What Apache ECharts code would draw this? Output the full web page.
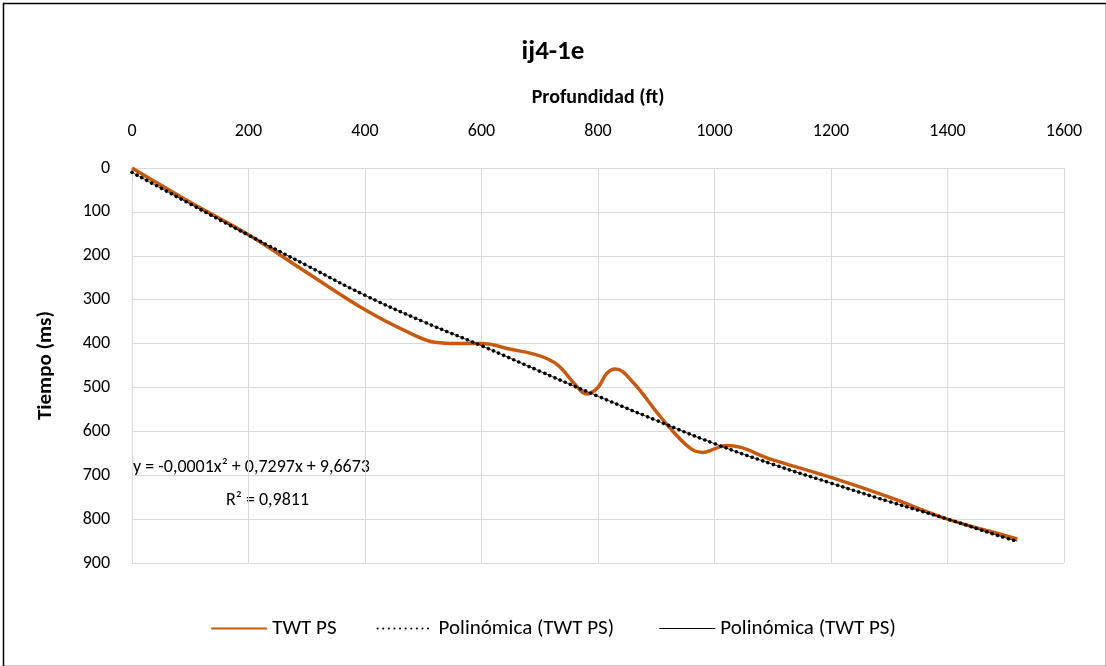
<!DOCTYPE html>
<html style="height: 100%">
<head>
<meta charset="UTF-8">
<script src="https://cdn.jsdelivr.net/npm/echarts@6/dist/echarts.min.js"></script>
</head>
<body style="height: 100%; margin: 0; background:#fff">
<div id="container" style="width:1106px;height:666px"></div>
<script type="text/javascript">
var twtX = [0, 100, 200, 300, 400, 480, 520, 560, 600, 650, 700, 730, 760, 780, 800, 815, 830, 860, 900, 930, 960, 980, 1000, 1020, 1100, 1200, 1300, 1400, 1500, 1520];
var twtY = [0, 78, 152, 238, 323, 378, 397, 400, 400, 413, 428, 448, 492, 515, 500, 468, 458, 488, 555, 602, 640, 648, 640, 632, 665, 705, 750, 800, 838, 845];
var polyX = [0, 100, 200, 300, 400, 500, 600, 700, 800, 900, 1000, 1100, 1200, 1300, 1400, 1500, 1520];
var polyY = [10, 82, 153, 222, 290, 350, 405, 463, 520, 575, 628, 675, 718, 760, 800, 843, 850];

function pairs(xs, ys) { return xs.map(function (x, i) { return [x, ys[i]]; }); }

var myChart = echarts.init(document.getElementById('container'));
var font = 'Carlito, Calibri, "Liberation Sans", sans-serif';
var option = {
  textStyle: { fontFamily: font },
  title: { text: 'ij4-1e', left: 'center', top: 34, textStyle: { fontSize: 27, fontWeight: 'bold', color: '#000', fontFamily: font } },
  grid: { left: 132, top: 168, width: 932, height: 395 },
  legend: {
    bottom: 22, itemWidth: 56, itemGap: 40, itemHeight: 14,
    itemStyle: { opacity: 0 },
    textStyle: { fontSize: 21, color: '#000' },
    data: [
      { name: 'TWT PS' },
      { name: 'Polinómica (TWT PS) ' },
      { name: 'Polinómica (TWT PS)', lineStyle: { width: 1 } }
    ]
  },
  xAxis: {
    type: 'value', position: 'top', min: 0, max: 1600, interval: 200,
    name: 'Profundidad (ft)', nameLocation: 'middle', nameGap: 60,
    nameTextStyle: { fontSize: 20, fontWeight: 'bold', color: '#000' },
    axisLine: { show: false }, axisTick: { show: false },
    axisLabel: { fontSize: 18, color: '#000', margin: 28, formatter: function (v) { return String(v); } },
    splitLine: { lineStyle: { color: '#d9d9d9' } }
  },
  yAxis: {
    type: 'value', inverse: true, min: 0, max: 900, interval: 100,
    name: 'Tiempo (ms)', nameLocation: 'middle', nameGap: 76, nameRotate: 90,
    nameTextStyle: { fontSize: 21, fontWeight: 'bold', color: '#000' },
    axisLine: { show: false }, axisTick: { show: false },
    axisLabel: { fontSize: 18, color: '#000', margin: 22 },
    splitLine: { lineStyle: { color: '#d9d9d9' } }
  },
  series: [
    { name: 'TWT PS', type: 'line', smooth: 0.4, symbol: 'none', data: pairs(twtX, twtY), lineStyle: { color: '#c55a11', width: 3.5 }, itemStyle: { color: '#c55a11' }, z: 3 },
    { name: 'Polinómica (TWT PS) ', type: 'line', smooth: true, symbol: 'none', data: pairs(polyX, polyY), lineStyle: { color: '#000', width: 3.5, type: [0.1, 5.5], cap: 'round' }, itemStyle: { color: '#000' }, z: 4 },
    { name: 'Polinómica (TWT PS)', type: 'line', smooth: true, symbol: 'none', data: pairs(polyX, polyY), lineStyle: { color: '#000', width: 0.8 }, itemStyle: { color: '#000' }, z: 4 }
  ],
  graphic: [
    { type: 'rect', left: 1, top: 1, shape: { width: 1103, height: 663 }, style: { fill: 'none', stroke: '#000', lineWidth: 1.5 } },
    { type: 'text', left: 133, top: 458, style: { text: 'y = -0,0001x² + 0,7297x + 9,6673', fontSize: 18, fill: '#000', fontFamily: font } },
    { type: 'text', left: 226, top: 491, style: { text: 'R² = 0,9811', fontSize: 18, fill: '#000', fontFamily: font } }
  ]
};
myChart.setOption(option);
</script>
</body>
</html>
